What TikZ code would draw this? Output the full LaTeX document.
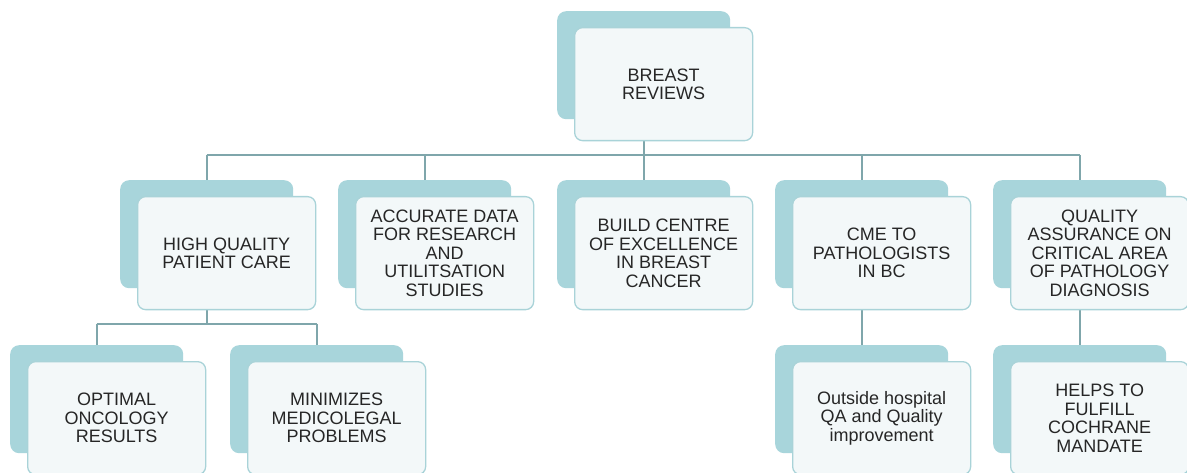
\documentclass[tikz,border=0pt]{standalone}
\usepackage{fontspec}
\setmainfont{Liberation Sans}
\usetikzlibrary{backgrounds}

\definecolor{tealback}{HTML}{A8D5DB}
\definecolor{cardfill}{HTML}{F3F8F9}
\definecolor{cardline}{HTML}{A9D3D8}
\definecolor{wirecol}{HTML}{7FA6AB}
\definecolor{ink}{HTML}{262626}

\tikzset{
  backplate/.style={fill=tealback, draw=none, rounded corners=9pt,
    minimum width=173pt, minimum height=108pt, inner sep=0pt, anchor=north west},
  card/.style={fill=cardfill, draw=cardline, line width=1.3pt, rounded corners=8pt,
    minimum width=178pt, minimum height=113pt, inner sep=0pt, anchor=north west,
    align=center, text=ink, font=\fontsize{18}{18.5}\selectfont},
  wire/.style={draw=wirecol, line width=2pt}
}

% a teal plate with a text card laid over it, shifted down and right
\newcommand\stackcard[4]{%
  \node[backplate] (#1b) at (#2,#3) {};
  \node[card] (#1) at ({#2+17},{#3+16}) {#4};
}

\begin{document}
\begin{tikzpicture}[x=1pt,y=-1pt]
  \useasboundingbox (0,0) rectangle (1187,473);

  % root
  \stackcard{root}{557}{11}{BREAST\\REVIEWS}

  % second tier
  \stackcard{care}{120}{180}{HIGH QUALITY\\PATIENT CARE}
  \stackcard{data}{338}{180}{ACCURATE DATA\\FOR RESEARCH\\AND\\UTILITSATION\\STUDIES}
  \stackcard{centre}{557}{180}{BUILD CENTRE\\OF EXCELLENCE\\IN BREAST\\CANCER}
  \stackcard{cme}{775}{180}{CME TO\\PATHOLOGISTS\\IN BC}
  \stackcard{qa}{993}{180}{QUALITY\\ASSURANCE ON\\CRITICAL AREA\\OF PATHOLOGY\\DIAGNOSIS}

  % third tier
  \stackcard{onco}{10}{345}{OPTIMAL\\ONCOLOGY\\RESULTS}
  \stackcard{legal}{230}{345}{MINIMIZES\\MEDICOLEGAL\\PROBLEMS}
  \stackcard{outside}{775}{345}{Outside hospital\\QA and Quality\\improvement}
  \stackcard{cochrane}{993}{345}{HELPS TO\\FULFILL\\COCHRANE\\MANDATE}

  \coordinate (busA) at (0,155);
  \coordinate (busB) at (0,324);

  \begin{scope}[on background layer]
    \fill[white] (0,0) rectangle (1187,473);
    % root to second tier
    \draw[wire] (rootb.center) -- (rootb.center |- busA);
    \draw[wire] (careb.center |- busA) -- (qab.center |- busA);
    \foreach \n in {careb,datab,centreb,cmeb,qab}
      \draw[wire] (\n.center |- busA) -- (\n.center);
    % patient care to its two outcomes
    \draw[wire] (careb.center) -- (careb.center |- busB);
    \draw[wire] (oncob.center |- busB) -- (legalb.center |- busB);
    \draw[wire] (oncob.center |- busB) -- (oncob.center);
    \draw[wire] (legalb.center |- busB) -- (legalb.center);
    % direct links
    \draw[wire] (cmeb.center) -- (outsideb.center);
    \draw[wire] (qab.center) -- (cochraneb.center);
  \end{scope}
\end{tikzpicture}
\end{document}
